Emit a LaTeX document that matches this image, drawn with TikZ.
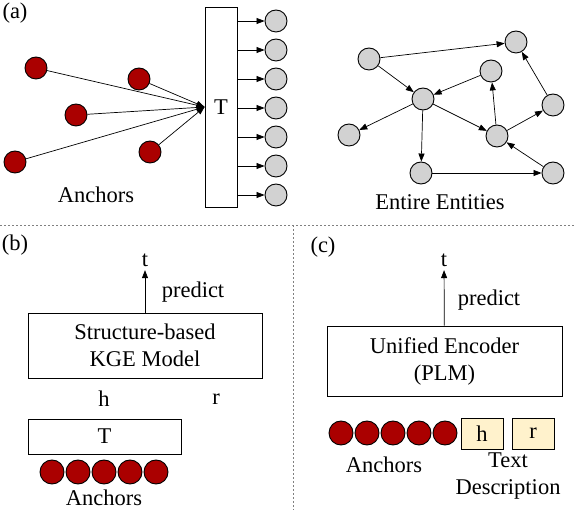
\documentclass[tikz,border=0pt]{standalone}
\usepackage{fontspec}
\setmainfont{Liberation Serif}
\usetikzlibrary{arrows.meta}
\definecolor{anchorred}{RGB}{170,0,0}
\definecolor{entgray}{RGB}{210,210,210}
\definecolor{textbg}{RGB}{255,242,204}
\tikzset{
	anc/.style={circle, draw, fill=anchorred, minimum size=22pt, inner sep=0pt, line width=0.9pt},
	ent/.style={circle, draw, fill=entgray, minimum size=22pt, inner sep=0pt, line width=0.9pt},
	blk/.style={draw, inner sep=0pt, line width=0.9pt, align=center},
	sep/.style={gray, dash pattern=on 2pt off 2pt, line width=0.7pt}
}

\begin{document}
\begin{tikzpicture}[x=1pt, y=-1pt, line width=0.7pt, >={Triangle[length=8pt,width=6pt]},
	font=\fontsize{22.5}{27}\selectfont]
				\useasboundingbox (0,0) rectangle (576,510);
				
				% (a) anchors and T
				\node (tagA) at (15,13) {(a)};
				\node[blk, minimum width=32pt, minimum height=200pt] (T) at (221,107) {T};
				\foreach \y [count=\i] in {21,50,79,108,137,166,195} {
					\node[ent] (o\i) at (276,\y) {};
					\draw[->] (T.east |- o\i) -- (o\i);
				}
				\node[anc] (a1) at (36,68) {};
				\node[anc] (a2) at (139,79) {};
				\node[anc] (a3) at (76,115) {};
				\node[anc] (a4) at (15,162) {};
				\node[anc] (a5) at (150,152) {};
				\foreach \i in {1,...,5}
					\draw[->] (a\i) -- (T.west);
				\node (ancA) at (96,195) {Anchors};
				
				% (a) entire entities
				\node[ent] (e1) at (369,59) {};
				\node[ent] (e2) at (516,42) {};
				\node[ent] (e3) at (491,71) {};
				\node[ent] (e4) at (423,99) {};
				\node[ent] (e5) at (553,105) {};
				\node[ent] (e6) at (349,135) {};
				\node[ent] (e7) at (497,136) {};
				\node[ent] (e8) at (421,173) {};
				\node[ent] (e9) at (553,173) {};
				\draw[->] (e1) -- (e2);
				\draw[->] (e1) -- (e4);
				\draw[->] (e3) -- (e4);
				\draw[->] (e4) -- (e6);
				\draw[->] (e4) -- (e7);
				\draw[->] (e4) -- (e8);
				\draw[->] (e7) -- (e3);
				\draw[->] (e7) -- (e5);
				\draw[->] (e5) -- (e2);
				\draw[->] (e9) -- (e7);
				\draw[->] (e8) -- (e9);
				\node (entA) at (440,202) {Entire Entities};
				
				% separators
				\draw[sep] (0,225) -- (576,225);
				\draw[sep] (293,225) -- (293,510);
				
				% (b)
				\node (tagB) at (15,245) {(b)};
				\node (tB) at (145,260) {t};
				\node[blk, minimum width=234pt, minimum height=65pt] (kge) at (145,345.5) {Structure-based\\KGE Model};
				\draw[->] (kge) -- (tB);
				\node (predB) at (193,292) {predict};
				\node (hB) at (104,399) {h};
				\node (rB) at (216,399) {r};
				\node[blk, minimum width=153pt, minimum height=35pt] (TB) at (104.5,436.5) {T};
				\foreach \x [count=\i] in {52,78,104,130,156}
					\node[anc, minimum size=24pt] (b\i) at (\x,472) {};
				\node (ancB) at (104,498) {Anchors};
				
				% (c)
				\node (tagC) at (323,247) {(c)};
				\node (tC) at (444,260) {t};
				\node[blk, minimum width=235pt, minimum height=70pt] (enc) at (444.5,361) {Unified Encoder\\(PLM)};
				\draw[->] (enc) -- (tC);
				\node (predC) at (489,300) {predict};
				\foreach \x [count=\i] in {341,367,393,419,445}
					\node[anc, minimum size=24pt] (c\i) at (\x,433) {};
				\node[blk, fill=textbg, minimum width=42pt, minimum height=31pt] (hC) at (482,433.5) {h};
				\node[blk, fill=textbg, minimum width=42pt, minimum height=31pt] (rC) at (533,433.5) {r};
				\node (ancC) at (384,465) {Anchors};
				\node[align=center] (txtC) at (508,476.5) {Text\\Description};
			\end{tikzpicture}
\end{document}
